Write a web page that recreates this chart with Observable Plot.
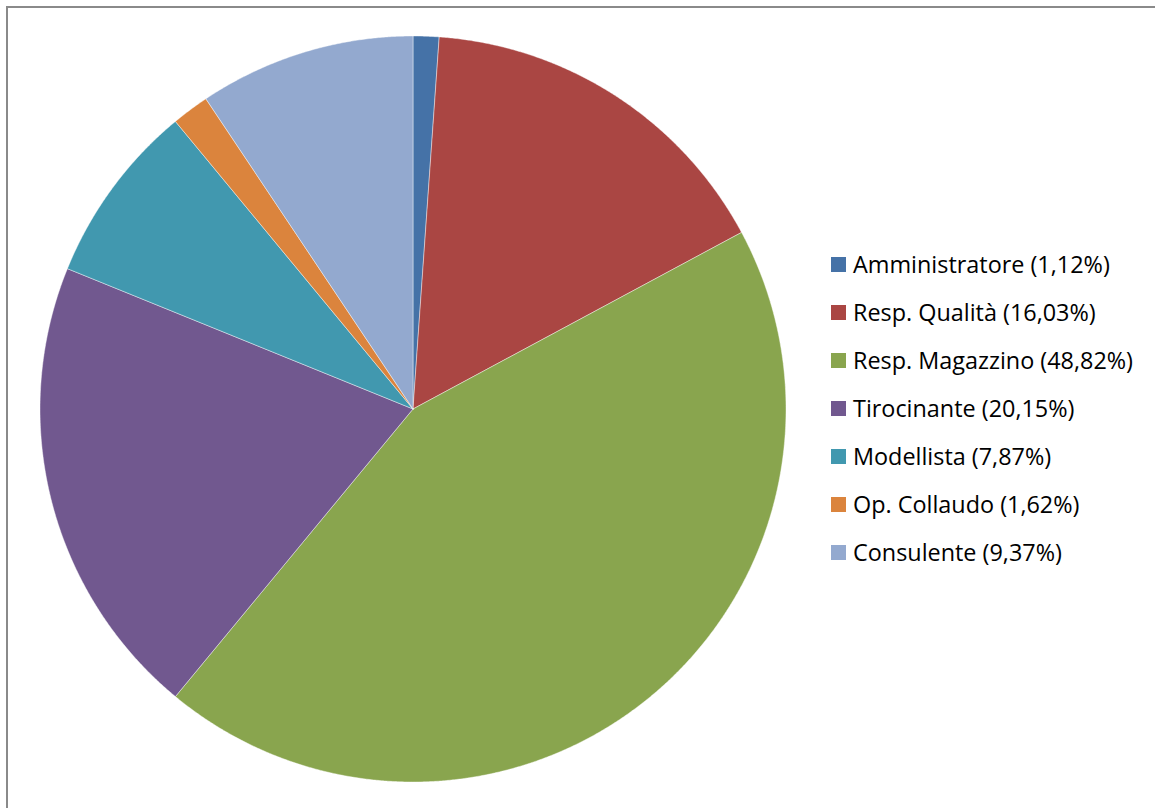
<!DOCTYPE html>
<html>
<head>
<meta charset="utf-8">
<script src="https://cdn.jsdelivr.net/npm/d3@7"></script>
<script src="https://cdn.jsdelivr.net/npm/@observablehq/plot@0.6"></script>
<style>
  html, body { margin: 0; padding: 0; background: #fff; overflow: hidden; }
  #wrap { position: relative; width: 1155px; height: 808px; overflow: hidden; }
  #frame { position: absolute; left: 6px; top: 6px; width: 1300px; height: 1000px; border: 2px solid #8a8a8a; box-sizing: border-box; }
  #pie { position: absolute; left: 0; top: 0; }
  #legend { position: absolute; left: 831px; top: 240px; }
  .lg-swatches { font-family: "Open Sans", Lato, sans-serif; font-size: 23.4px; color: #000; margin: 0; }
  .lg-swatch { height: 48px; padding-bottom: 0 !important; }
  .lg-swatch > svg { margin-right: 7px !important; }
  .lg-swatch-label { overflow: visible !important; }
</style>
</head>
<body>
<div id="wrap">
  <div id="frame"></div>
  <div id="pie"></div>
  <div id="legend"></div>
</div>
<script>
const categories = ["Amministratore", "Resp. Qualità", "Resp. Magazzino", "Tirocinante", "Modellista", "Op. Collaudo", "Consulente"];
// slice sizes as drawn in the picture (the green wedge measures ~43.8%, although its label reads 48,82%)
const sliceValues = [1.12, 16.03, 43.84, 20.15, 7.87, 1.62, 9.37];
// percentages printed in the legend
const labelPercents = [1.12, 16.03, 48.82, 20.15, 7.87, 1.62, 9.37];
const colors = ["#4572A7", "#AA4643", "#89A54E", "#71588F", "#4198AF", "#DB843D", "#93A9CF"];

// Build wedge outlines (in unit-circle data space) from the values, clockwise from 12 o'clock
const total = d3.sum(sliceValues);
const wedges = [];
let acc = 0;
categories.forEach((name, i) => {
  const a0 = acc / total * 2 * Math.PI;
  acc += sliceValues[i];
  const a1 = acc / total * 2 * Math.PI;
  wedges.push({name, x: 0, y: 0});
  const steps = Math.max(2, Math.ceil((a1 - a0) / (Math.PI / 720)));
  for (let k = 0; k <= steps; k++) {
    const a = a0 + (a1 - a0) * k / steps;
    wedges.push({name, x: Math.sin(a), y: Math.cos(a)});
  }
  wedges.push({name, x: 0, y: 0});
});

const plot = Plot.plot({
  width: 1155,
  height: 808,
  margin: 0,
  style: {background: "transparent", overflow: "visible"},
  x: {domain: [-1, 1], range: [39.5, 785.5], axis: null},
  y: {domain: [-1, 1], range: [781.5, 35.5], axis: null},
  color: {domain: categories, range: colors},
  marks: [
    Plot.line(wedges, {x: "x", y: "y", z: "name", fill: "name", stroke: "#ffffff", strokeWidth: 0.6, strokeOpacity: 0.7, curve: "linear"})
  ]
});
document.getElementById("pie").appendChild(plot);

const fmt = v => v.toFixed(2).replace(".", ",");
const legend = plot.legend("color", {
  columns: 1,
  className: "lg",
  swatchSize: 15,
  tickFormat: d => `${d} (${fmt(labelPercents[categories.indexOf(d)])}%)`
});
document.getElementById("legend").appendChild(legend);
</script>
</body>
</html>
